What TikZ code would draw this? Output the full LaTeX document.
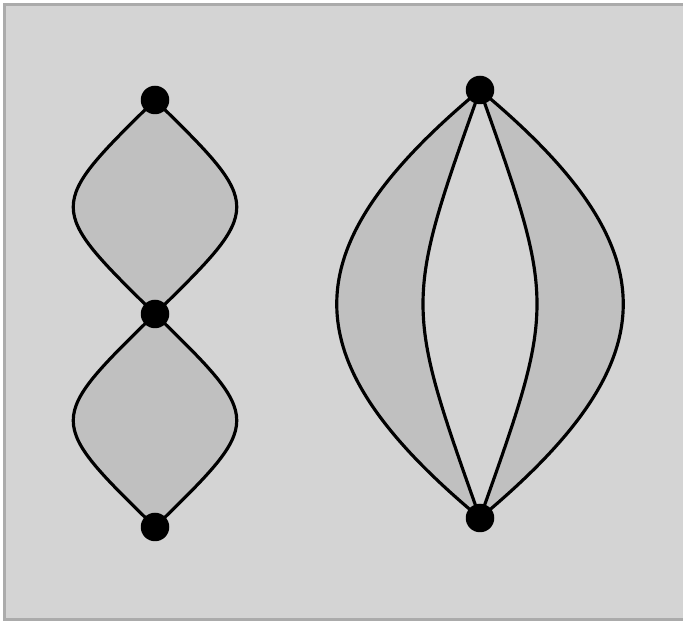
\documentclass[tikz,border=0pt]{standalone}
\usepackage{tikz}
\usetikzlibrary{positioning,calc}
\definecolor{bggray}{HTML}{D4D4D4}
\definecolor{lensgray}{HTML}{C0C0C0}
\definecolor{framegray}{HTML}{ABABAB}
\tikzset{
  vdot/.style={circle, fill=black, inner sep=0pt, minimum size=0.57cm},
  edge/.style={line width=1.8pt, line join=round}
}
\begin{document}
\begin{tikzpicture}
    \useasboundingbox (0,0) rectangle (13.66,12.42);
    \clip (0,0) rectangle (13.66,12.42);
    \draw[framegray, fill=bggray, line width=0.06cm] (0.09,0.03) rectangle (13.9,12.33);
    % vertices
    \coordinate (a1) at (3.1,10.42);
    \coordinate (a2) at (3.1,6.14);
    \coordinate (a3) at (3.1,1.88);
    \coordinate (b1) at (9.6,10.62);
    \coordinate (b2) at (9.6,2.06);
    % left: two stacked lenses
    \fill[lensgray] (a1) .. controls (0.92,8.28) .. (a2) .. controls (5.28,8.28) .. cycle;
    \fill[lensgray] (a2) .. controls (0.92,4.01) .. (a3) .. controls (5.28,4.01) .. cycle;
    \draw[edge] (a1) .. controls (0.92,8.28) .. (a2);
    \draw[edge] (a1) .. controls (5.28,8.28) .. (a2);
    \draw[edge] (a2) .. controls (0.92,4.01) .. (a3);
    \draw[edge] (a2) .. controls (5.28,4.01) .. (a3);
    % right: four edges, outer strips shaded
    \fill[lensgray] (b1) .. controls (5.78,7.44) and (5.78,5.24) .. (b2) .. controls (8.08,6.34) .. cycle;
    \fill[lensgray] (b1) .. controls (13.42,7.44) and (13.42,5.24) .. (b2) .. controls (11.12,6.34) .. cycle;
    \draw[edge] (b1) .. controls (5.78,7.44) and (5.78,5.24) .. (b2);
    \draw[edge] (b1) .. controls (8.08,6.34) .. (b2);
    \draw[edge] (b1) .. controls (11.12,6.34) .. (b2);
    \draw[edge] (b1) .. controls (13.42,7.44) and (13.42,5.24) .. (b2);
    \node[vdot] (v1) at (a1) {};
    \node[vdot] (v2) at (a2) {};
    \node[vdot] (v3) at (a3) {};
    \node[vdot] (w1) at (b1) {};
    \node[vdot] (w2) at (b2) {};
\end{tikzpicture}
\end{document}
